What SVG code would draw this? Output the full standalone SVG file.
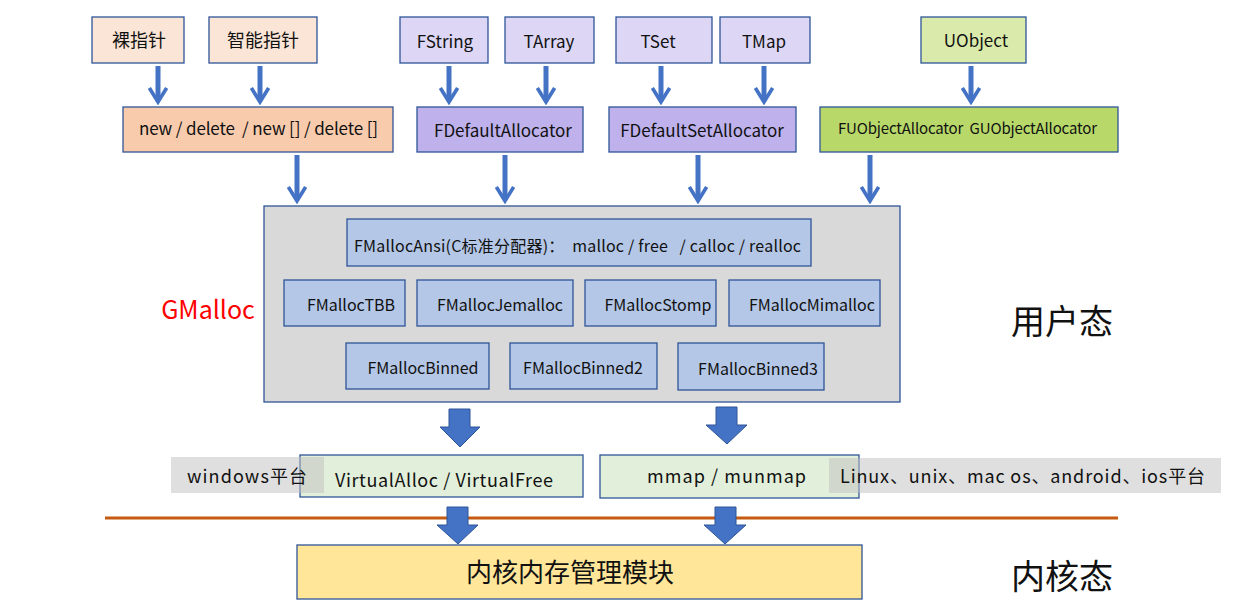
<svg xmlns="http://www.w3.org/2000/svg" width="1249" height="609" viewBox="0 0 1249 609">
<defs>
<style>
text{font-family:"Noto Sans CJK SC","Noto Sans",sans-serif;fill:#111;white-space:pre;}
.b{stroke:#2F5597;stroke-width:1.3;}
.peach{fill:#FBE5D6;}
.peach2{fill:#F8CBAD;}
.lav{fill:#DDD7F5;}
.lav2{fill:#BEB1EC;}
.lime{fill:#DAEAAA;}
.lime2{fill:#B8D96A;}
.blue{fill:#B4C7E7;}
.grey{fill:#D9D9D9;}
.green{fill:#E2EFDA;}
.yellow{fill:#FFE699;}
.lbl{fill:#BFBFBF;fill-opacity:0.5;}
.t18{font-size:18px;}
.t17{font-size:17px;}
.t16{font-size:16px;}
.t15{font-size:15px;}
.arr{stroke:#4472C4;stroke-width:5;fill:none;}
.blk{fill:#4472C4;stroke:#2F5597;stroke-width:1;}
</style>
<marker id="ah" viewBox="0 0 10 10" refX="7.5" refY="5" markerWidth="4" markerHeight="4" orient="auto" markerUnits="strokeWidth">
<path d="M1.5,0.7 L8.5,5 L1.5,9.3" fill="none" stroke="#4472C4" stroke-width="1.8" stroke-linejoin="miter"/>
</marker>
</defs>
<rect width="1249" height="609" fill="#fff"/>

<g id="n-raw"><rect class="b peach" x="92" y="17" width="92" height="46"/><text class="t18" x="139" y="47" text-anchor="middle">裸指针</text></g>
<g id="n-smart"><rect class="b peach" x="209" y="17" width="108" height="46"/><text class="t18" x="263" y="47" text-anchor="middle">智能指针</text></g>
<g id="n-fstring"><rect class="b lav" x="400" y="17" width="88" height="46"/><text class="t17" x="445" y="48" text-anchor="middle">FString</text></g>
<g id="n-tarray"><rect class="b lav" x="505" y="17" width="89" height="46"/><text class="t17" x="549" y="48" text-anchor="middle">TArray</text></g>
<g id="n-tset"><rect class="b lav" x="616" y="17" width="96" height="46"/><text class="t17" x="658" y="48" text-anchor="middle">TSet</text></g>
<g id="n-tmap"><rect class="b lav" x="720" y="17" width="90" height="46"/><text class="t17" x="764" y="48" text-anchor="middle">TMap</text></g>
<g id="n-uobject"><rect class="b lime" x="921" y="17" width="105" height="46"/><text class="t17" x="976" y="47" text-anchor="middle">UObject</text></g>

<g id="n-new"><rect class="b peach2" x="123" y="107" width="270" height="45"/><text class="t17" x="139" y="135" textLength="239">new / delete  / new [] / delete []</text></g>
<g id="n-fdefault"><rect class="b lav2" x="417" y="107" width="166" height="45"/><text class="t17" x="503" y="137" text-anchor="middle">FDefaultAllocator</text></g>
<g id="n-fdefaultset"><rect class="b lav2" x="609" y="107" width="187" height="45"/><text class="t17" x="702" y="137" text-anchor="middle">FDefaultSetAllocator</text></g>
<g id="n-fuobject"><rect class="b lime2" x="820" y="107" width="298" height="45"/><text class="t15" x="838" y="134" textLength="259">FUObjectAllocator  GUObjectAllocator</text></g>

<g id="n-gmalloc">
<rect class="b grey" x="264" y="206" width="636" height="196"/>
<text x="208" y="319" text-anchor="middle" style="font-size:25px;fill:#FF0000">GMalloc</text>
</g>
<g id="n-ansi"><rect class="b blue" x="347" y="219" width="464" height="47"/><text class="t16" x="354" y="252" textLength="447">FMallocAnsi(C标准分配器)：  malloc / free   / calloc / realloc</text></g>
<g id="n-tbb"><rect class="b blue" x="284" y="280" width="121" height="46"/><text class="t16" x="351" y="311" text-anchor="middle">FMallocTBB</text></g>
<g id="n-jemalloc"><rect class="b blue" x="417" y="280" width="156" height="46"/><text class="t16" x="500" y="311" text-anchor="middle">FMallocJemalloc</text></g>
<g id="n-stomp"><rect class="b blue" x="585" y="280" width="131" height="46"/><text class="t16" x="658" y="311" text-anchor="middle">FMallocStomp</text></g>
<g id="n-mimalloc"><rect class="b blue" x="729" y="280" width="151" height="46"/><text class="t16" x="812" y="311" text-anchor="middle">FMallocMimalloc</text></g>
<g id="n-binned"><rect class="b blue" x="346" y="343" width="143" height="46"/><text class="t16" x="423" y="374" text-anchor="middle">FMallocBinned</text></g>
<g id="n-binned2"><rect class="b blue" x="510" y="343" width="147" height="46"/><text class="t16" x="583" y="374" text-anchor="middle">FMallocBinned2</text></g>
<g id="n-binned3"><rect class="b blue" x="678" y="343" width="146" height="47"/><text class="t16" x="758" y="375" text-anchor="middle">FMallocBinned3</text></g>

<g id="n-virtual"><rect class="b green" x="300" y="455" width="283" height="42"/><text class="t18" x="335" y="487" textLength="218">VirtualAlloc / VirtualFree</text></g>
<g id="n-windows"><rect class="lbl" x="171" y="457" width="153" height="36"/><text class="t18" x="187" y="483" textLength="120">windows平台</text></g>
<g id="n-mmap"><rect class="b green" x="600" y="455" width="259" height="43"/><text class="t18" x="647" y="483" textLength="159">mmap / munmap</text></g>
<g id="n-linux"><rect class="lbl" x="829" y="458" width="392" height="35"/><text class="t18" x="840" y="483" textLength="365">Linux、unix、mac os、android、ios平台</text></g>

<g id="n-kernel"><rect class="b yellow" x="297" y="545" width="565" height="54"/><text x="570" y="582" text-anchor="middle" style="font-size:26px">内核内存管理模块</text></g>

<g id="n-user-label"><text x="1062" y="334" text-anchor="middle" style="font-size:34px">用户态</text></g>
<g id="n-kernel-label"><text x="1062" y="589" text-anchor="middle" style="font-size:34px">内核态</text></g>

<g id="connectors">
<line x1="105" y1="518" x2="1118" y2="518" stroke="#C55A11" stroke-width="3"/>
<line class="arr" x1="158" y1="66" x2="158" y2="100" marker-end="url(#ah)"/>
<line class="arr" x1="260" y1="66" x2="260" y2="100" marker-end="url(#ah)"/>
<line class="arr" x1="449" y1="66" x2="449" y2="100" marker-end="url(#ah)"/>
<line class="arr" x1="546" y1="66" x2="546" y2="100" marker-end="url(#ah)"/>
<line class="arr" x1="661" y1="66" x2="661" y2="100" marker-end="url(#ah)"/>
<line class="arr" x1="764" y1="66" x2="764" y2="100" marker-end="url(#ah)"/>
<line class="arr" x1="971" y1="66" x2="971" y2="100" marker-end="url(#ah)"/>
<line class="arr" x1="297" y1="155" x2="297" y2="199" marker-end="url(#ah)"/>
<line class="arr" x1="505" y1="155" x2="505" y2="199" marker-end="url(#ah)"/>
<line class="arr" x1="698" y1="155" x2="698" y2="199" marker-end="url(#ah)"/>
<line class="arr" x1="870" y1="155" x2="870" y2="199" marker-end="url(#ah)"/>
<polygon class="blk" points="449,409 470,409 470,427 480,427 460,447 440,427 449,427"/>
<polygon class="blk" points="716,407 737,407 737,425 747,425 727,444 706,425 716,425"/>
<polygon class="blk" points="447,507 468,507 468,525 478,525 458,544 437,525 447,525"/>
<polygon class="blk" points="715,507 736,507 736,525 746,525 725,544 704,525 715,525"/>
</g>
</svg>
